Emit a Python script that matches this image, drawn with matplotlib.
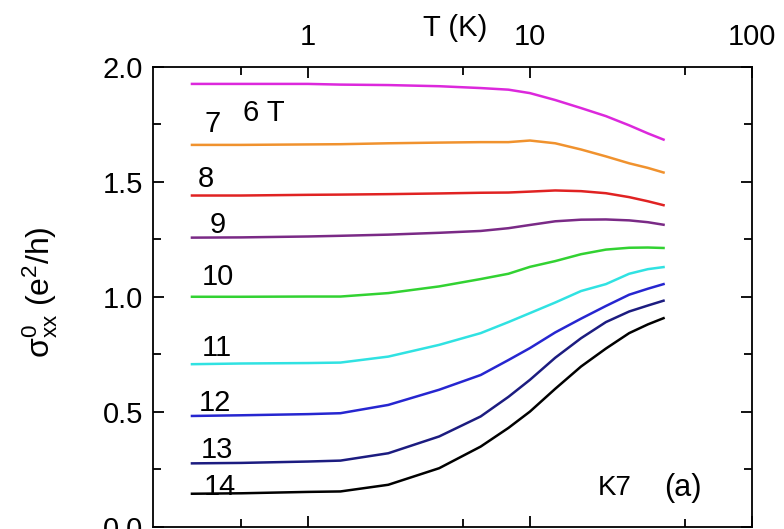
import matplotlib
matplotlib.use('Agg')
import matplotlib.pyplot as plt
from matplotlib.ticker import FixedLocator, FixedFormatter, NullFormatter, MultipleLocator, FormatStrFormatter

plt.rcParams['font.family'] = ['Liberation Sans', 'DejaVu Sans']
plt.rcParams['mathtext.fontset'] = 'custom'
plt.rcParams['mathtext.rm'] = 'Liberation Sans'
plt.rcParams['mathtext.it'] = 'Liberation Sans'
plt.rcParams['mathtext.default'] = 'regular'

# temperature points (K)
T = [0.3, 0.5, 1, 1.4, 2.3, 3.9, 6, 8, 10, 13, 17, 22, 28, 34, 40]

# sigma_xx^0 (e^2/h) for each field
s6 = [1.925, 1.925, 1.925, 1.922, 1.92, 1.915, 1.907, 1.90, 1.885, 1.855, 1.82, 1.785, 1.745, 1.71, 1.683]
s7 = [1.66, 1.66, 1.662, 1.663, 1.667, 1.67, 1.672, 1.672, 1.679, 1.667, 1.64, 1.61, 1.58, 1.56, 1.54]
s8 = [1.44, 1.44, 1.443, 1.444, 1.446, 1.449, 1.452, 1.453, 1.457, 1.462, 1.459, 1.45, 1.433, 1.415, 1.398]
s9 = [1.257, 1.258, 1.262, 1.265, 1.27, 1.278, 1.286, 1.298, 1.312, 1.328, 1.335, 1.336, 1.332, 1.324, 1.313]
s10 = [1.0, 1.0, 1.001, 1.001, 1.016, 1.045, 1.077, 1.10, 1.13, 1.155, 1.185, 1.205, 1.213, 1.214, 1.212]
s11 = [0.707, 0.71, 0.712, 0.714, 0.74, 0.791, 0.842, 0.89, 0.929, 0.975, 1.025, 1.055, 1.10, 1.12, 1.129]
s12 = [0.482, 0.485, 0.49, 0.494, 0.53, 0.596, 0.66, 0.725, 0.777, 0.845, 0.905, 0.96, 1.009, 1.035, 1.055]
s13 = [0.276, 0.278, 0.284, 0.288, 0.32, 0.393, 0.48, 0.565, 0.639, 0.735, 0.82, 0.89, 0.936, 0.962, 0.983]
s14 = [0.144, 0.146, 0.152, 0.154, 0.183, 0.255, 0.349, 0.43, 0.501, 0.60, 0.697, 0.775, 0.842, 0.88, 0.907]

curves = [s6, s7, s8, s9, s10, s11, s12, s13, s14]
colors = ['#dc28dc', '#f0922e', '#e02222', '#7a2a86', '#32d232', '#30e2e2',
          '#2626d0', '#1c1c80', '#000000']

# curve labels: text, T position, sigma position
labels = ['6 T', '7', '8', '9', '10', '11', '12', '13', '14']
label_T = [0.63, 0.373, 0.347, 0.393, 0.393, 0.389, 0.381, 0.389, 0.40]
label_s = [1.80, 1.75, 1.51, 1.313, 1.087, 0.778, 0.539, 0.335, 0.174]

fig = plt.figure(figsize=(7.84, 5.29), dpi=100)
ax = fig.add_axes([0.195, 0.004, 0.764, 0.870])

for s, c in zip(curves, colors):
    ax.plot(T, s, color=c, linewidth=1.8)

for txt, xt, yt in zip(labels, label_T, label_s):
    ax.text(xt, yt, txt, fontsize=21, ha='center', va='center')

ax.text(24, 0.17, 'K7', fontsize=20, ha='center', va='center')
ax.text(49, 0.17, '(a)', fontsize=22, ha='center', va='center')

ax.set_xscale('log')
ax.set_xlim(0.2, 100)
ax.set_ylim(0.0, 2.0)

ax.xaxis.set_major_locator(FixedLocator([1, 10, 100]))
ax.xaxis.set_minor_locator(FixedLocator([0.5, 5, 50]))
ax.xaxis.set_major_formatter(FixedFormatter(['1', '10', '100']))
ax.xaxis.set_minor_formatter(NullFormatter())
ax.yaxis.set_major_locator(MultipleLocator(0.5))
ax.yaxis.set_minor_locator(MultipleLocator(0.25))
ax.yaxis.set_major_formatter(FormatStrFormatter('%.1f'))

ax.tick_params(which='both', direction='in', top=True, right=True,
               labeltop=True, labelbottom=False, width=1.3)
ax.tick_params(which='major', length=8)
ax.tick_params(which='minor', length=5.5)
ax.tick_params(axis='x', which='major', labelsize=21, pad=11)
ax.tick_params(axis='y', which='major', labelsize=21, pad=7)

for sp in ax.spines.values():
    sp.set_linewidth(1.3)

ax.text(0.504, 1.085, 'T (K)', transform=ax.transAxes, fontsize=21,
        ha='center', va='center')
ax.set_ylabel(r'$\sigma^{0}_{xx}$ (e$^{2}$/h)', fontsize=23)
ax.yaxis.set_label_coords(-0.155, 0.51)

fig.savefig('out.png', dpi=100)
